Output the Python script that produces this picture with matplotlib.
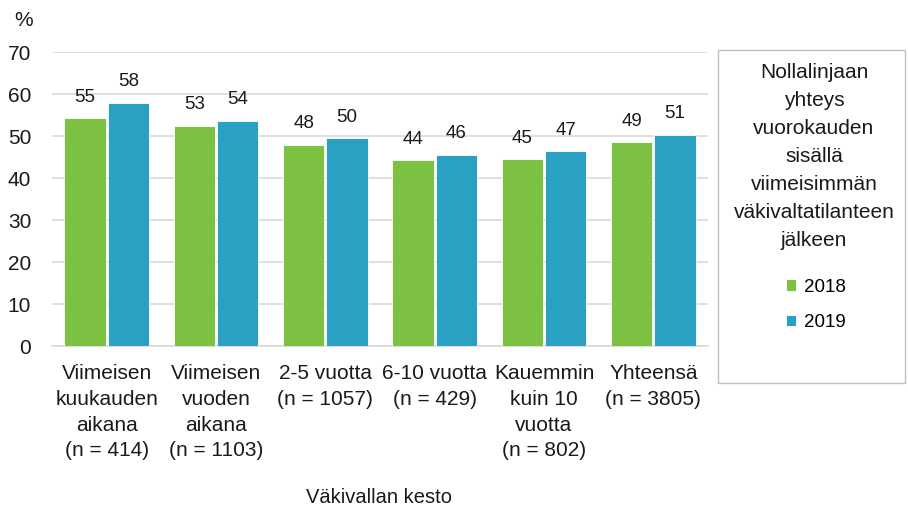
import numpy as np
import matplotlib
matplotlib.use("Agg")
import matplotlib.pyplot as plt
from matplotlib.patches import Rectangle

plt.rcParams['font.family'] = ['Liberation Sans', 'DejaVu Sans']

# Data
categories = ["Viimeisen\nkuukauden\naikana\n(n = 414)",
              "Viimeisen\nvuoden\naikana\n(n = 1103)",
              "2-5 vuotta\n(n = 1057)",
              "6-10 vuotta\n(n = 429)",
              "Kauemmin\nkuin 10\nvuotta\n(n = 802)",
              "Yhteensä\n(n = 3805)"]
values_2018 = [54.2, 52.4, 47.9, 44.2, 44.5, 48.5]
values_2019 = [57.9, 53.6, 49.5, 45.5, 46.4, 50.3]
labels_2018 = ["55", "53", "48", "44", "45", "49"]
labels_2019 = ["58", "54", "50", "46", "47", "51"]
yticks = [0, 10, 20, 30, 40, 50, 60, 70]
legend_title = ("Nollalinjaan\nyhteys\nvuorokauden\nsisällä\nviimeisimmän\n"
                "väkivaltatilanteen\njälkeen")

green = "#7dc142"
blue = "#2aa0c3"
grid = "#d9d9d9"
txt = "#1a1a1a"
fs = 15

fig = plt.figure(figsize=(9.08, 5.11), dpi=100)
ax = fig.add_axes([52 / 908, 1 - 346 / 511, 656 / 908, 294 / 511])

x = np.arange(len(categories))
w = 0.38
b1 = ax.bar(x - w / 2 - 0.008, values_2018, w, color=green, edgecolor="white",
            linewidth=0.6, label="2018", zorder=3)
b2 = ax.bar(x + w / 2 + 0.008, values_2019, w, color=blue, edgecolor="white",
            linewidth=0.6, label="2019", zorder=3)
for bars, labs in [(b1, labels_2018), (b2, labels_2019)]:
    for rect, lab in zip(bars, labs):
        ax.text(rect.get_x() + rect.get_width() / 2, rect.get_height() + 5.0,
                lab, ha="center", va="center", fontsize=13.5, color=txt)

ax.set_xlim(-0.5, len(categories) - 0.5)
ax.set_ylim(0, 70)
ax.set_yticks(yticks)
ax.set_yticklabels([str(t) for t in yticks], fontsize=fs, color=txt)
ax.yaxis.grid(True, color=grid, linewidth=1.2, zorder=0)
ax.set_axisbelow(True)
for s in ["top", "right", "left"]:
    ax.spines[s].set_visible(False)
ax.spines["bottom"].set_color(grid)
ax.spines["bottom"].set_linewidth(1.2)
ax.tick_params(axis="y", length=0, pad=15)
ax.tick_params(axis="x", length=0, pad=13)
ax.set_xticks(x)
ax.set_xticklabels(categories, fontsize=fs, color=txt, linespacing=1.45)

fig.text(24 / 908, 1 - 20 / 511, "%", fontsize=fs, ha="center", va="center",
         color=txt)
fig.text(379 / 908, 1 - 497 / 511, "Väkivallan kesto", fontsize=14.5,
         ha="center", va="center", color=txt)

# Legend box
fig.patches.append(Rectangle((718 / 908, 1 - 383 / 511), 187 / 908, 333 / 511,
                             transform=fig.transFigure, facecolor="white",
                             edgecolor="#bfbfbf", linewidth=1))
fig.text(814 / 908, 1 - 156 / 511, legend_title, fontsize=fs, ha="center",
         va="center", linespacing=1.6, color=txt)
fig.legend(handles=[b1, b2], labels=["2018", "2019"], loc="center",
           bbox_to_anchor=(816 / 908, 1 - 305 / 511), frameon=False,
           fontsize=13.5, handlelength=0.55, handleheight=0.55,
           handletextpad=0.45, labelspacing=1.0)

fig.savefig("out.png", dpi=100)
